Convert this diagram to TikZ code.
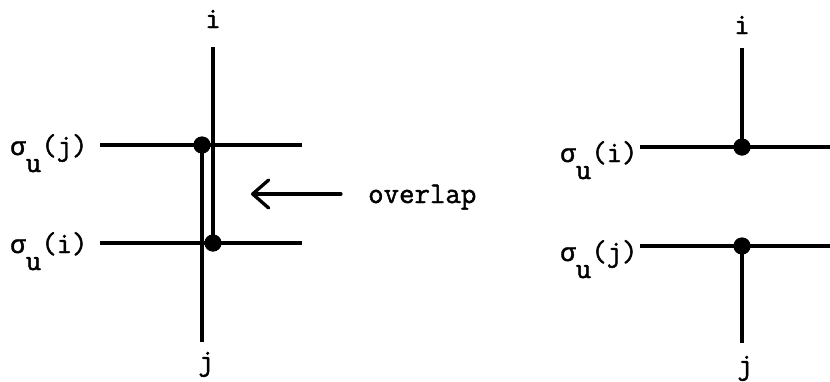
\documentclass[tikz,border=0pt]{standalone}
\usepackage{fontspec}
\setmonofont{Latin Modern Mono}[FakeBold=1.6]
\newfontfamily\sigmafont{Liberation Mono}[FakeBold=1.4]
\usetikzlibrary{arrows.meta}
% sigma with a lowered typewriter subscript u, then the argument
\newcommand{\sigmaU}[1]{{\sigmafont\fontsize{26}{30}\selectfont σ}\raisebox{-17pt}{u}(#1)}
\begin{document}
\begin{tikzpicture}[x=1pt,y=-1pt,
  wire/.style={line width=3.3pt},
  junction/.style={circle,fill=black,draw=none,inner sep=0pt,minimum size=17pt},
  lbl/.style={inner sep=0pt,font=\ttfamily\fontsize{30}{34}\selectfont},
]
\useasboundingbox (0,0) rectangle (830,381);

% ---- left: overlapping crossings ----
\coordinate (Ltop) at (213,47);
\coordinate (Lbot) at (202,342);
\node[junction] (Ldj) at (202,145) {};
\node[junction] (Ldi) at (213,243) {};
\coordinate (LjW) at (100,145);
\coordinate (LjE) at (302,145);
\coordinate (LiW) at (100,243);
\coordinate (LiE) at (302,243);
\draw[wire] (LjW) -- (LjE);
\draw[wire] (LiW) -- (LiE);
\draw[wire] (Ltop) -- (Ldi.center);
\draw[wire] (Ldj.center) -- (Lbot);
\node[junction] at (Ldj) {};
\node[junction] at (Ldi) {};

\node[lbl,anchor=base] (Li) at (213,28) {i};
\node[lbl,anchor=base] (Lj) at (206,370) {j};
\node[lbl,anchor=base west] (Lsj) at (10,155) {\sigmaU{j}};
\node[lbl,anchor=base west] (Lsi) at (10,253) {\sigmaU{i}};

% ---- arrow and caption ----
\coordinate (Atail) at (341,194);
\coordinate (Ahead) at (251,194);
\draw[wire,line cap=round,-{Straight Barb[length=16pt,width=28pt,line cap=round,line join=round]}] (Atail) -- (Ahead);
\node[lbl,anchor=base west] (ov) at (368,203) {overlap};

% ---- right: separated crossings ----
\coordinate (Rtop) at (742,48);
\coordinate (Rbot) at (742,343);
\node[junction] (Rdi) at (742,147) {};
\node[junction] (Rdj) at (742,246) {};
\coordinate (RiW) at (640,147);
\coordinate (RiE) at (836,147);
\coordinate (RjW) at (640,246);
\coordinate (RjE) at (836,246);
\draw[wire] (RiW) -- (RiE);
\draw[wire] (RjW) -- (RjE);
\draw[wire] (Rtop) -- (Rdi.center);
\draw[wire] (Rdj.center) -- (Rbot);
\node[junction] at (Rdi) {};
\node[junction] at (Rdj) {};

\node[lbl,anchor=base] (Ri) at (742,34) {i};
\node[lbl,anchor=base] (Rj) at (745,374) {j};
\node[lbl,anchor=base west] (Rsi) at (560,162) {\sigmaU{i}};
\node[lbl,anchor=base west] (Rsj) at (560,261) {\sigmaU{j}};
\end{tikzpicture}
\end{document}
